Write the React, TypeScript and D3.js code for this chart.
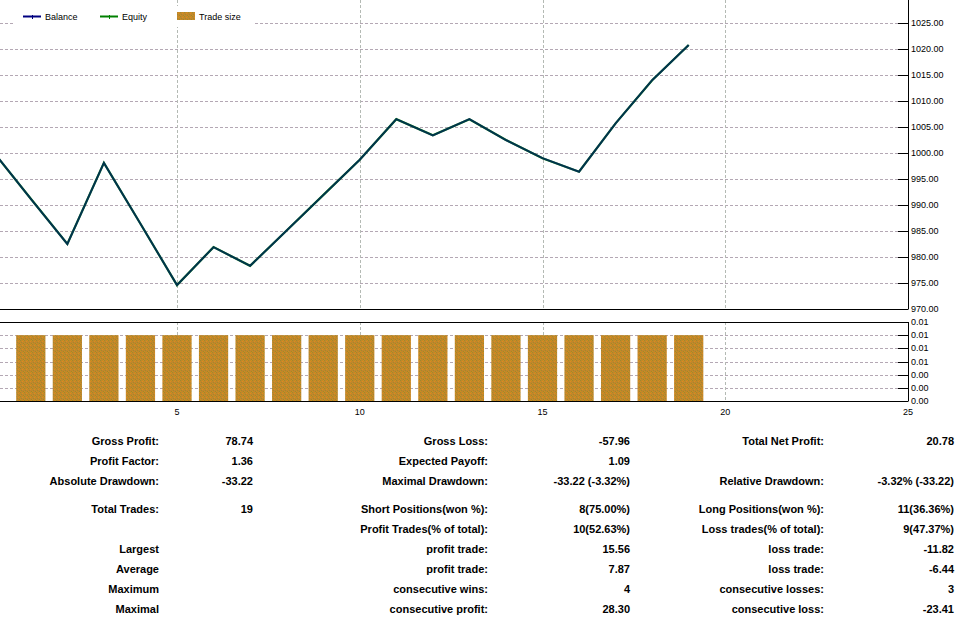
import React from "react";
import * as d3 from "d3";

const trades = [0, 1, 2, 3, 4, 5, 6, 7, 8, 9, 10, 11, 12, 13, 14, 15, 16, 17, 18, 19];
const balance = [1000, 991.2, 982.5, 998.1, 986.4, 974.6, 981.9, 978.3, 985.1, 991.9, 998.7, 1006.5, 1003.4, 1006.5, 1002.5, 999.0, 996.4, 1005.7, 1014.0, 1020.78];
const equity = [1000, 991.2, 982.5, 998.1, 986.4, 974.6, 981.9, 978.3, 985.1, 991.9, 998.7, 1006.5, 1003.4, 1006.5, 1002.5, 999.0, 996.4, 1005.7, 1014.0, 1020.78];
const tradeNums = [1, 2, 3, 4, 5, 6, 7, 8, 9, 10, 11, 12, 13, 14, 15, 16, 17, 18, 19];
const tradeSize = [0.01, 0.01, 0.01, 0.01, 0.01, 0.01, 0.01, 0.01, 0.01, 0.01, 0.01, 0.01, 0.01, 0.01, 0.01, 0.01, 0.01, 0.01, 0.01];
const xTicks = [5, 10, 15, 20, 25];
const balanceTicks = [970, 975, 980, 985, 990, 995, 1000, 1005, 1010, 1015, 1020, 1025, 1030];
const sizeTicks = [0, 0.002, 0.004, 0.006, 0.008, 0.01, 0.012];

const statCol1 = [
  ["Gross Profit:", "78.74"],
  ["Profit Factor:", "1.36"],
  ["Absolute Drawdown:", "-33.22"],
  ["Total Trades:", "19"],
  ["", ""],
  ["Largest", ""],
  ["Average", ""],
  ["Maximum", ""],
  ["Maximal", ""],
];
const statCol2 = [
  ["Gross Loss:", "-57.96"],
  ["Expected Payoff:", "1.09"],
  ["Maximal Drawdown:", "-33.22 (-3.32%)"],
  ["Short Positions(won %):", "8(75.00%)"],
  ["Profit Trades(% of total):", "10(52.63%)"],
  ["profit trade:", "15.56"],
  ["profit trade:", "7.87"],
  ["consecutive wins:", "4"],
  ["consecutive profit:", "28.30"],
];
const statCol3 = [
  ["Total Net Profit:", "20.78"],
  ["", ""],
  ["Relative Drawdown:", "-3.32% (-33.22)"],
  ["Long Positions(won %):", "11(36.36%)"],
  ["Loss trades(% of total):", "9(47.37%)"],
  ["loss trade:", "-11.82"],
  ["loss trade:", "-6.44"],
  ["consecutive losses:", "3"],
  ["consecutive loss:", "-23.41"],
];
const rowY = [441, 461, 481, 509, 529, 549, 569, 589, 609];

export default function App() {
  const W = 960;
  const H = 620;
  const axisX = 908;
  const x = d3.scaleLinear().domain([0, 25]).range([-5.75, 908]);
  const yTop = d3.scaleLinear().domain([970, 1030]).range([309, -3]);
  const yBot = d3.scaleLinear().domain([0, 0.012]).range([401, 322]);

  const line = d3
    .line<number>()
    .x((_, i) => x(trades[i]))
    .y((d) => yTop(d));

  const font = "'Liberation Sans', Arial, sans-serif";
  const gridH = "#b4a8b4";
  const gridV = "#b4bab4";
  const step = x(1) - x(0);
  const barW = step * 0.8;

  const cols = [
    { data: statCol1, lx: 159, vx: 253 },
    { data: statCol2, lx: 488, vx: 630 },
    { data: statCol3, lx: 824, vx: 954 },
  ];

  return (
    <svg
      width={W}
      height={H}
      style={{ position: "absolute", left: 0, top: 0, background: "#fff" }}
      fontFamily={font}
    >
      <defs>
        <pattern id="tex" width="4" height="4" patternUnits="userSpaceOnUse">
          <rect width="4" height="4" fill="#c2862a" />
          <rect x="0" y="0" width="1" height="1" fill="#9c8c2e" />
          <rect x="2" y="1" width="1" height="1" fill="#d8901e" />
          <rect x="1" y="2" width="1" height="1" fill="#a08a30" />
          <rect x="3" y="3" width="1" height="1" fill="#9c8a2c" />
          <rect x="3" y="0" width="1" height="1" fill="#d28c1c" />
          <rect x="0" y="3" width="1" height="1" fill="#cf8a22" />
        </pattern>
        <clipPath id="topClip">
          <rect x={0} y={0} width={axisX} height={309} />
        </clipPath>
      </defs>
      <rect width={W} height={H} fill="#fff" />

      {/* top panel horizontal grid */}
      {balanceTicks
        .filter((t) => t > 970 && t < 1030)
        .map((t) => (
          <line
            key={"hg" + t}
            x1={0}
            x2={axisX - 10}
            y1={Math.round(yTop(t)) + 0.5}
            y2={Math.round(yTop(t)) + 0.5}
            stroke={gridH}
            strokeDasharray="3,2"
          />
        ))}
      {/* bottom panel horizontal grid */}
      {sizeTicks
        .filter((t) => t > 0 && t < 0.012)
        .map((t) => (
          <line
            key={"bg" + t}
            x1={0}
            x2={axisX - 10}
            y1={Math.round(yBot(t)) + 0.5}
            y2={Math.round(yBot(t)) + 0.5}
            stroke={gridH}
            strokeDasharray="3,2"
          />
        ))}
      {/* vertical grid */}
      {xTicks
        .filter((t) => t < 25)
        .map((t) => (
          <g key={"vg" + t}>
            <line
              x1={Math.round(x(t)) + 0.5}
              x2={Math.round(x(t)) + 0.5}
              y1={0}
              y2={309}
              stroke={gridV}
              strokeDasharray="3,2"
            />
            <line
              x1={Math.round(x(t)) + 0.5}
              x2={Math.round(x(t)) + 0.5}
              y1={322}
              y2={401}
              stroke={gridV}
              strokeDasharray="3,2"
            />
          </g>
        ))}

      {/* bars */}
      {tradeSize.map((v, i) => (
        <rect
          key={"bar" + i}
          x={x(tradeNums[i]) - barW / 2}
          y={yBot(v)}
          width={barW}
          height={yBot(0) - yBot(v)}
          fill="url(#tex)"
        />
      ))}

      {/* lines */}
      <g clipPath="url(#topClip)">
        <path d={line(equity) || ""} fill="none" stroke="#008000" strokeWidth={2.2} />
        <path d={line(balance) || ""} fill="none" stroke="#000080" strokeWidth={2} strokeOpacity={0.6} />
      </g>

      {/* frames */}
      <line x1={0} x2={axisX} y1={309.5} y2={309.5} stroke="#000" />
      <line x1={0} x2={axisX} y1={322.5} y2={322.5} stroke="#000" />
      <line x1={0} x2={axisX} y1={401.5} y2={401.5} stroke="#000" />
      <line x1={axisX + 0.5} x2={axisX + 0.5} y1={0} y2={309.5} stroke="#000" />
      <line x1={axisX + 0.5} x2={axisX + 0.5} y1={322} y2={401.5} stroke="#000" />

      {/* top axis ticks and labels */}
      {balanceTicks.map((t) => (
        <g key={"yt" + t}>
          {t > 970 && t < 1030 && (
            <line
              x1={axisX - 10}
              x2={axisX}
              y1={Math.round(yTop(t)) + 0.5}
              y2={Math.round(yTop(t)) + 0.5}
              stroke="#000"
            />
          )}
          <text x={911} y={yTop(t)} dy="0.35em" fontSize={9} fill="#000">
            {d3.format(".2f")(t)}
          </text>
        </g>
      ))}
      {/* bottom axis ticks and labels */}
      {sizeTicks.map((t) => (
        <g key={"st" + t}>
          {t > 0 && t < 0.012 && (
            <line
              x1={axisX - 10}
              x2={axisX}
              y1={Math.round(yBot(t)) + 0.5}
              y2={Math.round(yBot(t)) + 0.5}
              stroke="#000"
            />
          )}
          <text x={911} y={yBot(t)} dy="0.35em" fontSize={9} fill="#000">
            {d3.format(".2f")(t)}
          </text>
        </g>
      ))}
      {/* x labels */}
      {xTicks.map((t) => (
        <text key={"xl" + t} x={x(t)} y={415} textAnchor="middle" fontSize={9} fill="#000">
          {t}
        </text>
      ))}

      {/* legend */}
      <rect x={15} y={6} width={240} height={21} fill="#fff" />
      <line x1={23} x2={41} y1={16.5} y2={16.5} stroke="#000080" strokeWidth={2} />
      <line x1={32.5} x2={32.5} y1={15} y2={19} stroke="#000080" strokeWidth={1} />
      <text x={45} y={20} fontSize={9} fill="#000">Balance</text>
      <line x1={100} x2={118} y1={16.5} y2={16.5} stroke="#008000" strokeWidth={2} />
      <line x1={109.5} x2={109.5} y1={15} y2={19} stroke="#008000" strokeWidth={1} />
      <text x={122} y={20} fontSize={9} fill="#000">Equity</text>
      <rect x={177} y={12} width={18} height={8} fill="url(#tex)" />
      <text x={199} y={20} fontSize={9} fill="#000">Trade size</text>

      {/* stats */}
      {cols.map((c, ci) =>
        c.data.map(([label, value], ri) => (
          <g key={"s" + ci + "-" + ri} fontWeight="bold" fontSize={11} fill="#000">
            {label && (
              <text x={c.lx} y={rowY[ri] + 4} textAnchor="end">
                {label}
              </text>
            )}
            {value && (
              <text x={c.vx} y={rowY[ri] + 4} textAnchor="end">
                {value}
              </text>
            )}
          </g>
        ))
      )}
    </svg>
  );
}
